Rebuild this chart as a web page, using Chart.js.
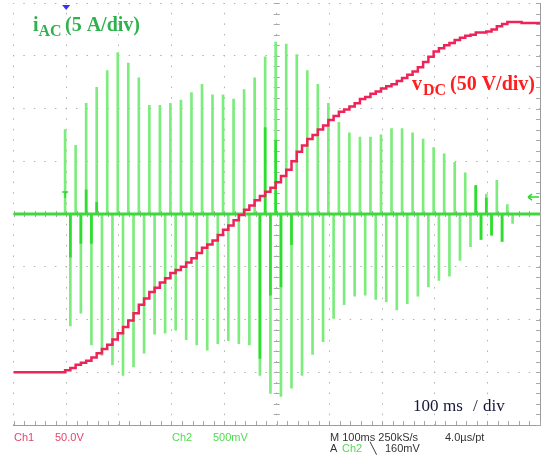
<!DOCTYPE html>
<html>
<head>
<meta charset="utf-8">
<script src="https://cdn.jsdelivr.net/npm/chart.js@4.4.0/dist/chart.umd.min.js"></script>
<style>
  html, body { margin: 0; padding: 0; background: #fff; }
  canvas { display: block; }
</style>
</head>
<body>
<canvas id="grafico" width="543" height="455"></canvas>
<script>
// Escalas da tela do osciloscopio (100 ms/div, 5 A/div, 50 V/div)
var tempoMin = 0, tempoMax = 1000;   // ms
var iacMin = -20, iacMax = 20;       // A
var vdcMin = -50, vdcMax = 350;      // V (terra do Ch1 fica 3 div abaixo do centro)

// Pulsos de corrente: positivos a cada 20 ms, negativos 10 ms depois
var inicioPulsos = 98;   // ms
var periodoPulsos = 20;  // ms
var iacPositivo = [8.0, 6.5, 10.5, 12.0, 13.6, 15.3, 14.3, 12.9, 10.3, 10.3, 10.5, 10.8, 11.5, 12.3, 11.3,
  11.3, 10.9, 11.8, 12.9, 14.9, 16.3, 16.1, 15.1, 13.6, 12.3, 10.5, 8.7, 7.7, 7.3, 7.3, 7.5, 8.1, 8.1,
  7.7, 7.1, 6.3, 5.7, 4.9, 3.9, 2.7, 1.9, 3.2, 0.9];
var iacNegativo = [-10.6, -9.4, -12.4, -13.4, -14.3, -15.3, -14.5, -13.2, -11.4, -11.3, -11.0, -11.9, -12.4,
  -12.9, -12.3, -12.0, -12.3, -12.4, -15.3, -17.0, -17.3, -16.5, -15.3, -13.3, -12.1, -9.9, -8.6, -7.8,
  -7.7, -8.1, -8.3, -9.1, -8.5, -7.8, -6.9, -6.3, -5.9, -4.4, -3.1, -2.4, -2.0, -2.6, -0.9];

// Trechos mais intensos (sobreposicao) de alguns pulsos
var brilhoPosIndice = [2, 3, 19, 20, 39, 40];
var brilhoPosValor = [2.3, 1.1, 8.2, 7.0, 2.7, 1.5];
var brilhoNegIndice = [0, 1, 2, 18, 19, 20, 21, 39, 40, 41];
var brilhoNegValor = [-4.1, -2.8, -2.8, -13.7, -7.7, -6.9, -2.9, -2.4, -2.0, -2.6];

// Tensao do barramento CC: um degrau a cada pulso (10 ms)
var vdcInicial = 0;
var vdcPasso = 10;  // ms
var vdcDegraus = [2, 4, 7, 9, 11, 14, 18, 22, 26, 31, 37, 43, 49, 56, 64, 70, 76, 80, 85, 89,
  94, 97, 100, 104, 108, 113, 118, 121, 125, 130, 135, 139, 144, 149, 154, 158, 163, 167, 171, 175,
  180, 186, 192, 200, 209, 215, 221, 225, 230, 234, 239, 243, 247, 249, 252, 255, 259, 261, 264, 266,
  269, 271, 273, 276, 279, 282, 285, 289, 294, 299, 304, 307, 310, 312, 315, 317, 319, 320, 322, 322,
  323, 325, 328, 330, 332, 332];
var vdcFinalTempo = [965, 1000];
var vdcFinalValor = [331, 331];

// Textos da tela
var rodapeLinha1 = [
  { texto: 'Ch1', x: 14, cor: '#e2466c' },
  { texto: '50.0V', x: 55, cor: '#e2466c' },
  { texto: 'Ch2', x: 172, cor: '#4fdc4f' },
  { texto: '500mV', x: 213, cor: '#4fdc4f' },
  { texto: 'M 100ms 250kS/s', x: 330, cor: '#333' },
  { texto: '4.0\u00b5s/pt', x: 445, cor: '#333' }
];
var rodapeLinha2 = [
  { texto: 'A', x: 330, cor: '#333' },
  { texto: 'Ch2', x: 342, cor: '#4fdc4f' },
  { texto: '\u2572', x: 370, cor: '#333' },
  { texto: '160mV', x: 385, cor: '#333' }
];

function tempoPulso(i, atraso) { return inicioPulsos + atraso + periodoPulsos * i; }

var pontosPos = iacPositivo.map(function (v, i) { return { x: tempoPulso(i, 0), y: v }; });
var pontosNeg = iacNegativo.map(function (v, i) { return { x: tempoPulso(i, 10), y: v }; });
var pontosBrilho = brilhoPosIndice.map(function (k, i) { return { x: tempoPulso(k, 0), y: brilhoPosValor[i] }; })
  .concat(brilhoNegIndice.map(function (k, i) { return { x: tempoPulso(k, 10), y: brilhoNegValor[i] }; }));

var pontosVdc = [{ x: tempoMin, y: vdcInicial }]
  .concat(vdcDegraus.map(function (v, i) { return { x: inicioPulsos + vdcPasso * i, y: v }; }))
  .concat(vdcFinalTempo.map(function (t, i) { return { x: t, y: vdcFinalValor[i] }; }));

var data = {
  datasets: [{
    type: 'line',
    label: 'vDC',
    data: pontosVdc,
    yAxisID: 'y2',
    borderColor: 'rgb(238, 36, 88)',
    borderWidth: 2.5,
    stepped: true,
    pointRadius: 0,
    order: 0
  }, {
    type: 'line',
    label: 'iAC zero',
    data: [{ x: tempoMin, y: 0 }, { x: tempoMax, y: 0 }],
    yAxisID: 'y',
    borderColor: '#3ed83e',
    borderWidth: 3,
    pointRadius: 0,
    order: 1
  }, {
    label: 'iAC brilho',
    data: pontosBrilho,
    yAxisID: 'y',
    backgroundColor: '#2ede2e',
    barThickness: 2,
    grouped: false,
    order: 2
  }, {
    label: 'iAC +',
    data: pontosPos,
    yAxisID: 'y',
    backgroundColor: '#7cec7c',
    barThickness: 2,
    grouped: false,
    order: 3
  }, {
    label: 'iAC -',
    data: pontosNeg,
    yAxisID: 'y',
    backgroundColor: '#7cec7c',
    barThickness: 2,
    grouped: false,
    order: 3
  }]
};

// Marcas menores, marcadores e textos da tela
var enfeites = {
  id: 'enfeites',
  beforeDatasetsDraw: function (chart) {
    var x = chart.scales.x, y = chart.scales.y, area = chart.chartArea, c = chart.ctx;
    var y0 = y.getPixelForValue(0), xc = x.getPixelForValue(500);
    c.save();
    c.strokeStyle = '#a8a8a8';
    c.lineWidth = 1;
    c.beginPath();
    for (var t = tempoMin; t <= tempoMax; t += 20) {
      var px = Math.round(x.getPixelForValue(t)) + 0.5;
      c.moveTo(px, y0 - 3); c.lineTo(px, y0 + 3);
      c.moveTo(px, area.bottom); c.lineTo(px, area.bottom - 4);
    }
    for (var a = iacMin; a <= iacMax; a += 1) {
      var py = Math.round(y.getPixelForValue(a)) + 0.5;
      c.moveTo(xc - 3, py); c.lineTo(xc + 3, py);
      c.moveTo(area.right, py); c.lineTo(area.right - 4, py);
    }
    c.stroke();
    c.restore();
  },
  afterDraw: function (chart) {
    var x = chart.scales.x, y = chart.scales.y, area = chart.chartArea, c = chart.ctx;
    var xt = x.getPixelForValue(100);
    var yt = y.getPixelForValue(1.6);
    c.save();
    // posicao do disparo
    c.fillStyle = '#3434e8';
    c.beginPath();
    c.moveTo(xt - 4, area.top + 2); c.lineTo(xt + 4, area.top + 2); c.lineTo(xt, area.top + 7);
    c.closePath(); c.fill();
    // marcador T e seta do nivel de disparo
    c.strokeStyle = '#2fd82f';
    c.lineWidth = 1.5;
    c.beginPath();
    c.moveTo(xt - 4, yt - 5); c.lineTo(xt + 2, yt - 5);
    c.moveTo(xt - 1, yt - 5); c.lineTo(xt - 1, yt + 1);
    c.moveTo(area.right - 12, yt); c.lineTo(area.right - 1, yt);
    c.moveTo(area.right - 12, yt); c.lineTo(area.right - 8, yt - 3);
    c.moveTo(area.right - 12, yt); c.lineTo(area.right - 8, yt + 3);
    c.stroke();

    // rotulos dos canais
    c.textBaseline = 'alphabetic';
    c.fillStyle = '#2fb24e';
    c.font = 'bold 20px "Liberation Serif"';
    c.fillText('i', 33, 31);
    c.fillText('(5 A/div)', 65, 31);
    c.font = 'bold 16px "Liberation Serif"';
    c.fillText('AC', 38.5, 36);

    c.fillStyle = '#ff1e1e';
    c.font = 'bold 20px "Liberation Serif"';
    c.fillText('v', 412, 90);
    c.fillText('(50 V/div)', 450, 90);
    c.font = 'bold 16px "Liberation Serif"';
    c.fillText('DC', 423, 95);

    c.fillStyle = '#16163a';
    c.font = '17px "Liberation Serif"';
    c.fillText('100', 413, 411);
    c.fillText('ms', 443, 411);
    c.fillText('/', 473, 411);
    c.fillText('div', 483, 411);

    // rodape do osciloscopio
    c.font = '11px "Liberation Sans"';
    rodapeLinha1.forEach(function (r) { c.fillStyle = r.cor; c.fillText(r.texto, r.x, 441); });
    rodapeLinha2.forEach(function (r) { c.fillStyle = r.cor; c.fillText(r.texto, r.x, 452); });
    c.restore();
  }
};

var options = {
  responsive: false,
  animation: false,
  layout: { padding: { left: 13.5, right: 3, top: 3, bottom: 30 } },
  plugins: { legend: { display: false }, tooltip: { enabled: false } },
  scales: {
    x: {
      type: 'linear',
      min: tempoMin,
      max: tempoMax,
      offset: false,
      ticks: { display: false, stepSize: 100 },
      grid: { color: '#b2b2b2', lineWidth: 1, drawTicks: false, offset: false },
      border: { display: true, color: '#9c9c9c', width: 1, dash: [1.5, 9.05], dashOffset: 0.75 }
    },
    y: {
      type: 'linear',
      position: 'right',
      min: iacMin,
      max: iacMax,
      ticks: { display: false, stepSize: 5 },
      grid: { color: '#b2b2b2', lineWidth: 1, drawTicks: false },
      border: { display: true, color: '#9c9c9c', width: 1, dash: [1.5, 9.03], dashOffset: 0.75 }
    },
    y2: { type: 'linear', display: false, min: vdcMin, max: vdcMax }
  }
};

var ctx = document.getElementById('grafico').getContext('2d');
new Chart(ctx, {
  type: 'bar',
  data: data,
  options: options,
  plugins: [enfeites]
});
</script>
</body>
</html>
